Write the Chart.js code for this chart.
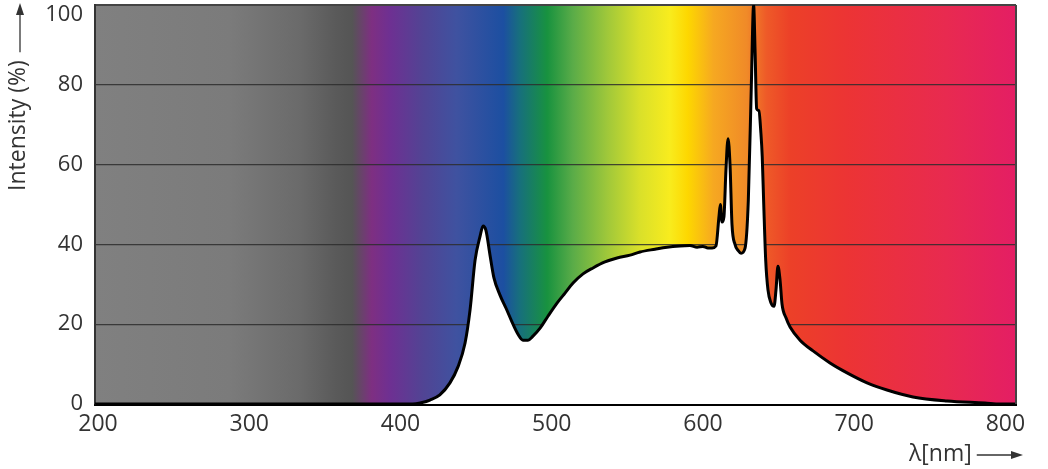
<!DOCTYPE html>
<html>
<head>
<meta charset="utf-8">
<script src="https://cdn.jsdelivr.net/npm/chart.js@4/dist/chart.umd.min.js"></script>
<style>
  html, body { margin: 0; padding: 0; background: #fff; }
</style>
</head>
<body>
<canvas id="spectrum" width="1048" height="469"></canvas>
<script>
// spectrum readings (nm, %)
const wavelength = [198, 380, 400, 408, 413, 419.5, 426, 432.7, 438, 442.7, 446, 449.3, 452.6, 454.6,
  456.5, 459.2, 461.8, 465.8, 469.8, 473.7, 477.7, 481, 484.3, 487.6, 492.3, 497.5, 503.5, 508.8, 514.1,
  520.7, 527.3, 535.2, 543.2, 551.8, 558.4, 568.3, 576.2, 584.8, 591.4, 596.1, 600, 603.3, 606, 608.6,
  610.6, 611.5, 612.6, 613.9, 615.2, 616.6, 617.9, 619.2, 621.2, 623.2, 625.2, 627.8, 630, 632, 633.5,
  634.5, 635.5, 637, 638.3, 639.2, 640.2, 641.5, 643, 645, 647, 648.3, 649.6, 651, 652.3, 654.9, 657.6,
  664.2, 672.8, 684, 695.3, 708.5, 721.7, 738.9, 761.4, 786.5, 796.4, 807];
const intensity = [0, 0, 0, 0, 0.25, 1.0, 2.3, 5.3, 9.3, 15.3, 23.6, 36, 42, 44.6,
  43.5, 37.3, 31.6, 27.3, 24, 20.6, 17.5, 16, 16, 17, 19, 22, 25.3, 27.8, 30.3,
  32.6, 34.1, 35.6, 36.6, 37.3, 38.1, 38.8, 39.3, 39.6, 39.7, 39.3, 39.5, 39.1, 39.1, 39.6,
  47, 50, 45.6, 47, 58.6, 66.5, 60, 45, 40, 38.5, 37.8, 39, 51, 80, 100,
  88, 74, 73.5, 68, 62, 50, 36, 28.6, 25.3, 24.5, 28.6, 34.5, 31, 25, 21.6, 19.3,
  16, 13.3, 10.3, 7.8, 5.3, 3.5, 1.75, 0.75, 0.25, 0, 0];

const xTicks = [200, 300, 400, 500, 600, 700, 800];
const yTicks = [0, 20, 40, 60, 80, 100];

// background colour band, stop positions in nm
const bandNm = [198, 287, 334, 357, 368, 381, 393, 415, 437, 468, 479, 497, 514, 537, 558, 578, 590,
  607, 629, 642, 658, 695, 761, 807];
const bandColor = ['#808080', '#7b7b7b', '#6a6a6a', '#5a5a5a', '#555555', '#7e2f82', '#6e3092', '#514494',
  '#3f52a0', '#1c4fa1', '#17707c', '#18923f', '#5aac48', '#a0c83a', '#d9e02a', '#f8ec1e', '#fdd700',
  '#f6a821', '#f08a28', '#ee5a28', '#ec4028', '#ec3434', '#e82a50', '#e41e64'];

const textColor = '#333';
const font = '"Open Sans", "DejaVu Sans", sans-serif';

const spectrumBackground = {
  id: 'spectrumBackground',
  beforeDraw(chart) {
    const { ctx, chartArea: a, scales: { x } } = chart;
    const g = ctx.createLinearGradient(a.left, 0, a.right, 0);
    bandNm.forEach((nm, i) => {
      const t = (x.getPixelForValue(nm) - a.left) / (a.right - a.left);
      g.addColorStop(Math.min(1, Math.max(0, t)), bandColor[i]);
    });
    ctx.save();
    ctx.fillStyle = g;
    ctx.fillRect(a.left, a.top, a.right - a.left, a.bottom - a.top);
    ctx.restore();
  }
};

function arrow(ctx, x1, y1, x2, y2) {
  const ang = Math.atan2(y2 - y1, x2 - x1);
  const c = Math.cos(ang), s = Math.sin(ang);
  ctx.beginPath();
  ctx.moveTo(x1, y1);
  ctx.lineTo(x2 - 8 * c, y2 - 8 * s);
  ctx.stroke();
  ctx.beginPath();
  ctx.moveTo(x2, y2);
  ctx.lineTo(x2 - 12 * c + 4 * s, y2 - 12 * s - 4 * c);
  ctx.lineTo(x2 - 12 * c - 4 * s, y2 - 12 * s + 4 * c);
  ctx.closePath();
  ctx.fill();
}

const axisTitles = {
  id: 'axisTitles',
  afterDraw(chart) {
    const { ctx, chartArea: a } = chart;
    ctx.save();
    // right frame edge
    ctx.strokeStyle = '#444';
    ctx.lineWidth = 2;
    ctx.beginPath();
    ctx.moveTo(a.right, a.top);
    ctx.lineTo(a.right, a.bottom);
    ctx.stroke();

    ctx.fillStyle = textColor;
    ctx.strokeStyle = textColor;
    ctx.lineWidth = 1.3;

    // top tick label sits below its grid line, as in the print
    ctx.font = '22px ' + font;
    ctx.textAlign = 'right';
    ctx.textBaseline = 'middle';
    ctx.fillText(String(yTicks[yTicks.length - 1]), a.left - 12, 15);

    ctx.font = '23px ' + font;
    ctx.textAlign = 'left';

    // y title, rotated, with arrow pointing up
    ctx.save();
    ctx.translate(18, 191);
    ctx.rotate(-Math.PI / 2);
    ctx.fillText('Intensity (%)', 0, 0);
    const w = ctx.measureText('Intensity (%)').width;
    ctx.restore();
    arrow(ctx, 20, 191 - w - 8, 20, 3);

    // x title with arrow pointing right
    ctx.fillText('λ[nm]', 909, 454);
    const wx = ctx.measureText('λ[nm]').width;
    arrow(ctx, 909 + wx + 5, 455, 1023, 455);
    ctx.restore();
  }
};

new Chart(document.getElementById('spectrum'), {
  type: 'line',
  data: {
    datasets: [{
      data: wavelength.map((nm, i) => ({ x: nm, y: intensity[i] })),
      borderColor: '#000',
      borderWidth: 3,
      backgroundColor: '#fff',
      fill: 'origin',
      pointRadius: 0,
      cubicInterpolationMode: 'monotone',
      borderJoinStyle: 'round'
    }]
  },
  options: {
    responsive: false,
    animation: false,
    layout: { padding: { top: 5, right: 32, left: 0, bottom: 0 } },
    plugins: { legend: { display: false }, tooltip: { enabled: false } },
    scales: {
      x: {
        type: 'linear',
        min: 198,
        max: 807,
        afterFit(s) { s.height = 65; s.paddingLeft = 0; s.paddingRight = 0; },
        afterBuildTicks(s) { s.ticks = xTicks.map(v => ({ value: v })); },
        grid: { display: false, drawTicks: false },
        border: { color: '#000', width: 3 },
        ticks: { color: textColor, font: { family: font, size: 23 }, padding: 7, maxRotation: 0 }
      },
      y: {
        min: 0,
        max: 100,
        afterFit(s) { s.width = 95; s.paddingTop = 0; s.paddingBottom = 0; },
        afterBuildTicks(s) { s.ticks = yTicks.map(v => ({ value: v })); },
        grid: {
          drawTicks: false,
          color: c => c.tick && c.tick.value === 100 ? '#444' : 'rgba(45,45,45,0.85)',
          lineWidth: c => c.tick && c.tick.value === 100 ? 2 : 1.2
        },
        border: { color: '#333', width: 2 },
        ticks: {
          color: textColor,
          font: { family: font, size: 22 },
          padding: 12,
          callback: v => v === 100 ? '' : v
        }
      }
    }
  },
  plugins: [spectrumBackground, axisTitles]
});
</script>
</body>
</html>
